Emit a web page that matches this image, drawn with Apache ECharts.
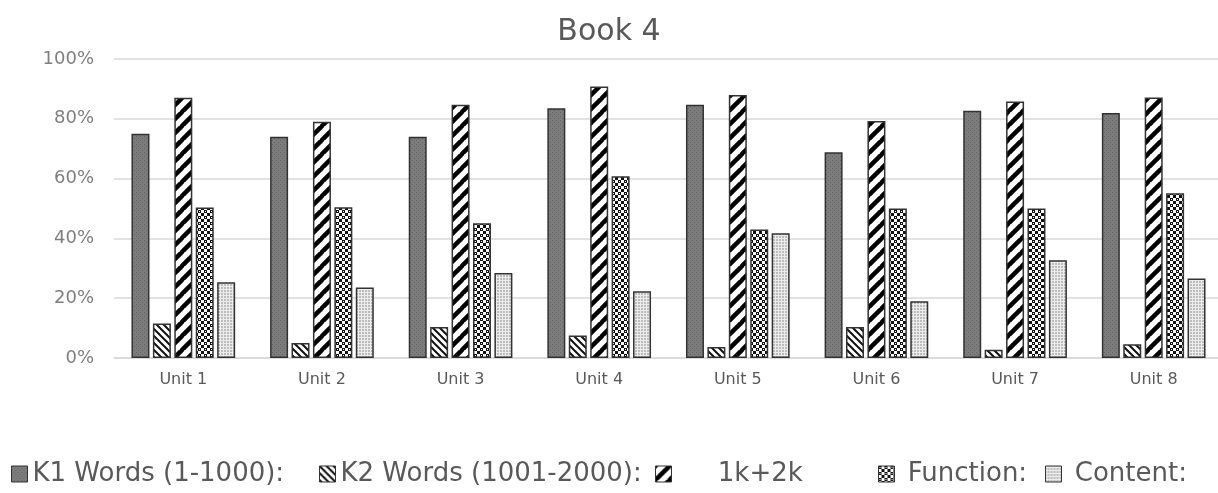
<!DOCTYPE html>
<html>
<head>
<meta charset="utf-8">
<script src="https://cdn.jsdelivr.net/npm/echarts@6/dist/echarts.min.js"></script>
<style>
  html, body { margin: 0; padding: 0; background: #fff; }
  #chart { width: 1218px; height: 493px; }
</style>
</head>
<body>
<div id="chart"></div>
<script>
// Book 4：各单元词汇覆盖率（百分比）
const units = ['Unit 1', 'Unit 2', 'Unit 3', 'Unit 4', 'Unit 5', 'Unit 6', 'Unit 7', 'Unit 8'];
const k1Words = [75, 74, 74, 83.5, 84.7, 68.8, 82.7, 81.9];
const k2Words = [11.5, 5, 10.4, 7.5, 3.7, 10.4, 2.8, 4.6];
const k1k2 = [87, 79, 84.7, 90.8, 88, 79.3, 85.8, 87.1];
const functionWords = [50.3, 50.4, 45.1, 60.8, 43, 50, 50, 55.1];
const contentWords = [25.3, 23.6, 28.4, 22.3, 41.7, 19, 32.7, 26.6];
const yTicks = [0, 20, 40, 60, 80, 100];

const seriesNames = ['K1 Words (1-1000):', 'K2 Words (1001-2000):', '     1k+2k', ' Function:', ' Content:'];

// 小贴图：用 canvas 画填充纹理
function tile(size, draw) {
  const c = document.createElement('canvas');
  c.width = c.height = size;
  const ctx = c.getContext('2d');
  draw(ctx, size);
  return { image: c, repeat: 'repeat' };
}

const patK1 = tile(4, (ctx, s) => {
  ctx.fillStyle = '#7c7c7c';
  ctx.fillRect(0, 0, s, s);
  ctx.fillStyle = '#666';
  ctx.fillRect(0, 0, 1, 1);
  ctx.fillRect(2, 2, 1, 1);
});

const patK2 = tile(7, (ctx, s) => {
  ctx.fillStyle = '#fff';
  ctx.fillRect(0, 0, s, s);
  ctx.strokeStyle = '#111';
  ctx.lineWidth = 2;
  [-s, 0, s].forEach(o => {
    ctx.beginPath();
    ctx.moveTo(o - 1, -1);
    ctx.lineTo(o + s + 1, s + 1);
    ctx.stroke();
  });
});

const patSum = tile(14, (ctx, s) => {
  ctx.fillStyle = '#fff';
  ctx.fillRect(0, 0, s, s);
  ctx.strokeStyle = '#000';
  ctx.lineWidth = 4.5;
  [-s, 0, s].forEach(o => {
    ctx.beginPath();
    ctx.moveTo(o - 1, s + 1);
    ctx.lineTo(o + s + 1, -1);
    ctx.stroke();
  });
});

const patFunc = tile(6, (ctx, s) => {
  ctx.fillStyle = '#fff';
  ctx.fillRect(0, 0, s, s);
  ctx.fillStyle = '#111';
  ctx.fillRect(0, 0, 3, 3);
  ctx.fillRect(3, 3, 3, 3);
  ctx.fillStyle = '#fff';
  ctx.fillRect(1, 1, 1, 1);
});

const patContent = tile(3, (ctx, s) => {
  ctx.fillStyle = '#bdbdbd';
  ctx.fillRect(0, 0, s, s);
  ctx.fillStyle = '#ececec';
  ctx.fillRect(1, 0, 1, s);
  ctx.fillRect(0, 1, s, 1);
});

const patterns = [patK1, patK2, patSum, patFunc, patContent];
const values = [k1Words, k2Words, k1k2, functionWords, contentWords];

const series = seriesNames.map((name, i) => ({
  name: name,
  type: 'bar',
  data: values[i],
  barWidth: 18,
  barGap: '19%',
  itemStyle: { color: patterns[i], borderColor: '#333', borderWidth: 1.5 },
  emphasis: { disabled: true }
}));

// 图例各项单独定位，贴合原图的间距
const legendLeft = [6, 314, 650, 873, 1040];
const legends = seriesNames.map((name, i) => ({
  data: [name],
  left: legendLeft[i],
  top: 456,
  itemWidth: 16,
  itemHeight: 16,
  icon: 'rect',
  selectedMode: false,
  textStyle: { fontFamily: 'DejaVu Sans', fontSize: 26, color: '#595959' },
  itemStyle: { borderColor: '#333', borderWidth: 1 }
}));

const chart = echarts.init(document.getElementById('chart'), null, { renderer: 'canvas' });
chart.setOption({
  animation: false,
  title: {
    text: 'Book 4',
    left: 'center',
    top: 12,
    textStyle: { fontFamily: 'DejaVu Sans', fontSize: 30, fontWeight: 'normal', color: '#595959' }
  },
  legend: legends,
  grid: { left: 114, right: -5, top: 59, bottom: 135, outerBoundsMode: 'none' },
  xAxis: {
    type: 'category',
    data: units,
    axisLine: { lineStyle: { color: '#d9d9d9', width: 1.5 } },
    axisTick: { show: false },
    axisLabel: { fontFamily: 'DejaVu Sans', fontSize: 16, color: '#595959', margin: 14 }
  },
  yAxis: {
    type: 'value',
    min: yTicks[0],
    max: yTicks[yTicks.length - 1],
    interval: 20,
    axisLine: { show: false },
    axisTick: { show: false },
    splitLine: { lineStyle: { color: '#d9d9d9', width: 1.5 } },
    axisLabel: { formatter: '{value}%', fontFamily: 'DejaVu Sans', fontSize: 18, color: '#7f7f7f', margin: 20 }
  },
  series: series
});
</script>
</body>
</html>
